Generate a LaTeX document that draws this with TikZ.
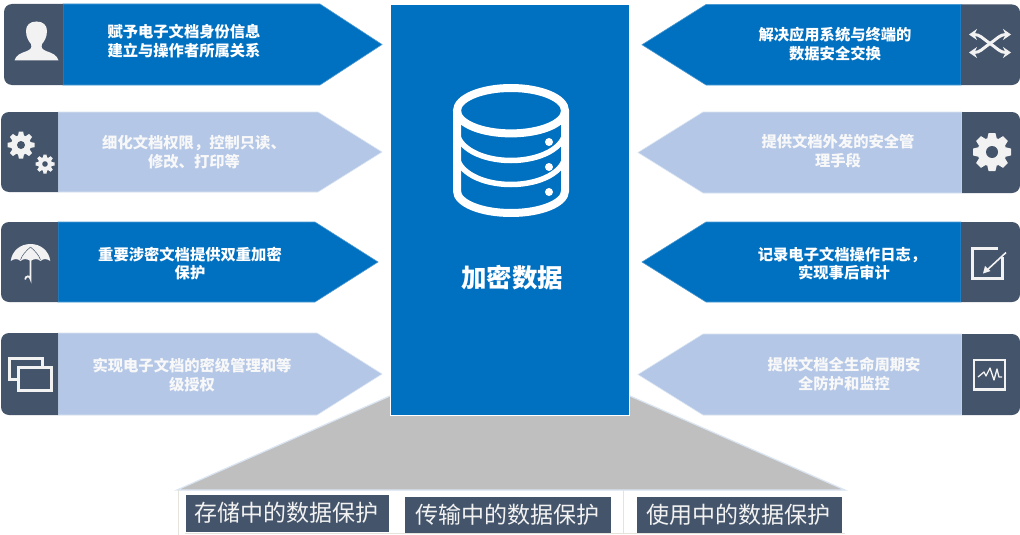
\documentclass[tikz,border=0pt]{standalone}
\usepackage{fontspec}
\setmainfont{Noto Sans CJK SC}
\usetikzlibrary{arrows.meta}
\definecolor{darkslate}{HTML}{44546A}
\definecolor{mainblue}{HTML}{0070C0}
\definecolor{lightblue}{HTML}{B4C7E7}
\definecolor{iconwhite}{HTML}{F2F2F2}
\definecolor{labelwhite}{HTML}{F8F8F8}
\definecolor{trapgray}{HTML}{BFBFBF}
\definecolor{edgeblue}{HTML}{DAE5F2}
\definecolor{thinline}{HTML}{E4E4DC}
\tikzset{
  arrowlabel/.style={text=white,font=\fontsize{15.3}{19}\selectfont\bfseries,align=center,inner sep=0pt},
  lightlabel/.style={arrowlabel,text=labelwhite},
  bottomlabel/.style={text=iconwhite,font=\fontsize{23}{26}\selectfont,inner sep=0pt,anchor=center},
  bluearrow/.style={fill=mainblue,draw=mainblue!70!white,line width=.6pt},
  lightarrow/.style={fill=lightblue,draw=edgeblue,line width=.6pt},
  iconpanel/.style={fill=darkslate},
  iconline/.style={draw=iconwhite,line width=3pt},
  bottombox/.style={fill=darkslate},
}
% left arrow: top, bottom, left, panel edge, shoulder, tip
\newcommand{\leftarrowshape}[7]{%
  \path[#7] (#5,#1) -- (#6,{(#1+#2)/2}) -- (#5,#2) -- (#4,#2) -- (#4,#1) -- cycle;
  \fill[iconpanel] (#4,#1) -- (#4,#2) -- ({#3+8},#2) arc[start angle=270,end angle=180,radius=8pt] -- (#3,{#1+8}) arc[start angle=180,end angle=90,radius=8pt] -- cycle;
}
% right arrow: top, bottom, right, panel edge, shoulder, tip
\newcommand{\rightarrowshape}[7]{%
  \path[#7] (#5,#1) -- (#6,{(#1+#2)/2}) -- (#5,#2) -- (#4,#2) -- (#4,#1) -- cycle;
  \fill[iconpanel] (#4,#1) -- (#4,#2) -- ({#3-8},#2) arc[start angle=270,end angle=360,radius=8pt] -- (#3,{#1+8}) arc[start angle=0,end angle=90,radius=8pt] -- cycle;
}
% gear: x, y, outer, body, hole, teeth, tooth width
\newcommand{\gearicon}[7]{%
  \fill[iconwhite] (#1,#2) circle[radius=#4 pt];
  \pgfmathsetmacro{\gearstep}{360/#6}
  \foreach \gi in {1,...,#6}{
    \fill[iconwhite,rotate around={\gi*\gearstep:(#1,#2)}]
      ({#1-#7/2},{#2-#4+1}) -- ({#1-#7/2*.72},{#2-#3}) -- ({#1+#7/2*.72},{#2-#3}) -- ({#1+#7/2},{#2-#4+1}) -- cycle;
  }
  \fill[darkslate] (#1,#2) circle[radius=#5 pt];
}
\begin{document}
\begin{tikzpicture}[x=1pt,y=-1pt]
\useasboundingbox (0,0) rectangle (1020,535);
\fill[white] (0,0) rectangle (1020,535);

% trapezoid
\fill[trapgray] (390,396) -- (630,396) -- (845,490) -- (177,490) -- cycle;
\draw[edgeblue,line width=1.2pt] (390,396) -- (177,490) -- (845,490) -- (630,396);
\draw[thinline,line width=.5pt] (178,490) -- (178,535);
\draw[thinline,line width=.5pt] (623,490) -- (623,533);
\draw[thinline,line width=.5pt] (185,533.5) -- (845,533.5);

% left arrows
\leftarrowshape{4}{85}{4}{63}{320}{382}{bluearrow}
\leftarrowshape{112}{192}{1}{58}{318}{382}{lightarrow}
\leftarrowshape{222}{302}{1}{58}{315}{378}{bluearrow}
\leftarrowshape{333}{415}{1}{58}{317}{382}{lightarrow}
% right arrows
\rightarrowshape{4.5}{85}{1020}{961}{706}{642}{bluearrow}
\rightarrowshape{112}{193}{1020}{962}{703}{638}{lightarrow}
\rightarrowshape{222}{302}{1020}{961}{706}{642}{bluearrow}
\rightarrowshape{334}{415}{1020}{962}{703}{638}{lightarrow}

% centre
\fill[mainblue,draw=white,line width=1pt] (390.5,4.5) rectangle (629.5,415);
% database icon
\begin{scope}[draw=white,line width=8pt]
  \draw (511,110.7) ellipse[x radius=54pt,y radius=22.7pt];
  \draw[line width=8pt] (457,110.7) -- (457,191) arc[start angle=180,end angle=360,x radius=54pt,y radius=22pt] -- (565,110.7);
  \draw[line width=5.5pt] (457,131) arc[start angle=180,end angle=360,x radius=54pt,y radius=29.5pt];
  \draw[line width=5.5pt] (457,155) arc[start angle=180,end angle=360,x radius=54pt,y radius=29.5pt];
\end{scope}
\fill[white] (549,142) circle[radius=4pt] (549,167) circle[radius=4pt] (549,192) circle[radius=4pt];
\node[text=white,font=\fontsize{25.5}{28}\selectfont\bfseries,inner sep=0pt] (title) at (512,278) {加密数据};

% texts
\node[arrowlabel] (l1a) at (184,32) {赋予电子文档身份信息};
\node[arrowlabel] (l1b) at (184,51) {建立与操作者所属关系};
\node[lightlabel] (l2a) at (194,143) {细化文档权限，控制只读、};
\node[lightlabel] (l2b) at (194,162) {修改、打印等};
\node[arrowlabel] (l3a) at (190,255) {重要涉密文档提供双重加密};
\node[arrowlabel] (l3b) at (190,273) {保护};
\node[lightlabel] (l4a) at (192,366) {实现电子文档的密级管理和等};
\node[lightlabel] (l4b) at (192,385) {级授权};
\node[arrowlabel] (r1a) at (835,35) {解决应用系统与终端的};
\node[arrowlabel] (r1b) at (835,54) {数据安全交换};
\node[lightlabel] (r2a) at (838,142) {提供文档外发的安全管};
\node[lightlabel] (r2b) at (838,161) {理手段};
\node[arrowlabel] (r3a) at (842,255) {记录电子文档操作日志，};
\node[arrowlabel] (r3b) at (844,273) {实现事后审计};
\node[lightlabel] (r4a) at (844,365) {提供文档全生命周期安};
\node[lightlabel] (r4b) at (844,384) {全防护和监控};

% bottom boxes
\fill[bottombox] (185.5,495) rectangle (389,532);
\fill[bottombox] (405,497) rectangle (610.5,533);
\fill[bottombox] (637,497) rectangle (842,533);
\node[bottomlabel] (b1) at (286.5,513) {存储中的数据保护};
\node[bottomlabel] (b2) at (507,515) {传输中的数据保护};
\node[bottomlabel] (b3) at (738,515) {使用中的数据保护};

% person
\fill[iconwhite] (36.5,21.5) .. controls (30,21.5) and (26,25) .. (26,31) .. controls (26,37) and (29,42) .. (31,44) .. controls (32,48) and (31,49) .. (27,51) .. controls (21,53) and (16,55) .. (14.5,60.5) -- (58.5,60.5) .. controls (57,55) and (52,53) .. (46,51) .. controls (42,49) and (41,48) .. (42,44) .. controls (44,42) and (47,37) .. (47,31) .. controls (47,25) and (43,21.5) .. (36.5,21.5) -- cycle;

% gears
\gearicon{21}{145}{13.5}{10}{4}{8}{6}
\gearicon{45}{164}{9.5}{7}{2.8}{8}{4.2}
\gearicon{992}{152}{19}{14.5}{6}{8}{9.5}

% umbrella
\fill[iconwhite] (30.5,244) .. controls (20,244) and (12,251) .. (10.7,261) .. controls (14,258.5) and (18,258.5) .. (20.5,261) .. controls (23,258.5) and (27,258.5) .. (30.5,261) .. controls (34,258.5) and (38,258.5) .. (40.5,261) .. controls (43,258.5) and (47,258.5) .. (50.3,261) .. controls (49,251) and (41,244) .. (30.5,244) -- cycle;
\draw[darkslate,line width=.5pt] (30.5,247) .. controls (26,251) and (22,255) .. (20.5,260);
\draw[darkslate,line width=.5pt] (30.5,247) .. controls (35,251) and (39,255) .. (40.5,260);
\draw[iconwhite,line width=1.8pt,line cap=round] (30.5,258) -- (30.5,279) arc[start angle=0,end angle=180,radius=2.6pt];

% windows
\draw[iconline] (9.5,358.5) rectangle (42.5,379);
\fill[darkslate] (18,367) rectangle (51.5,391);
\draw[iconline] (18.5,367.5) rectangle (51.3,390.7);

% shuffle
\begin{scope}[line width=3pt,{Stealth[length=8pt,width=11pt]}-{Stealth[length=8pt,width=11pt]}]
  \draw[draw=iconwhite] (969,52.5) .. controls (980,52.5) and (982,49) .. (990,43.5) .. controls (998,38) and (1000,34.5) .. (1011,34.5);
  \draw[draw=iconwhite] (969,34.5) .. controls (980,34.5) and (982,38) .. (990,43.5) .. controls (998,49) and (1000,52.5) .. (1011,52.5);
\end{scope}

% edit
\draw[iconline] (998,248.5) -- (972,248.5) -- (972,278.3) -- (1002.2,278.3) -- (1002.2,257);
\draw[iconwhite,line width=1.6pt] (1006,252.5) -- (986,271);
\fill[iconwhite] (983,273.5) -- (985,266) -- (990.5,271) -- cycle;

% monitor
\draw[iconline,line width=2.6pt] (974,360) rectangle (1005,389.5);
\draw[iconwhite,line width=1.3pt,line join=round] (978,377) -- (984,372) -- (986,376) -- (990,368) -- (994,380) -- (997,369) -- (999,377) -- (1002,377);
\end{tikzpicture}
\end{document}
